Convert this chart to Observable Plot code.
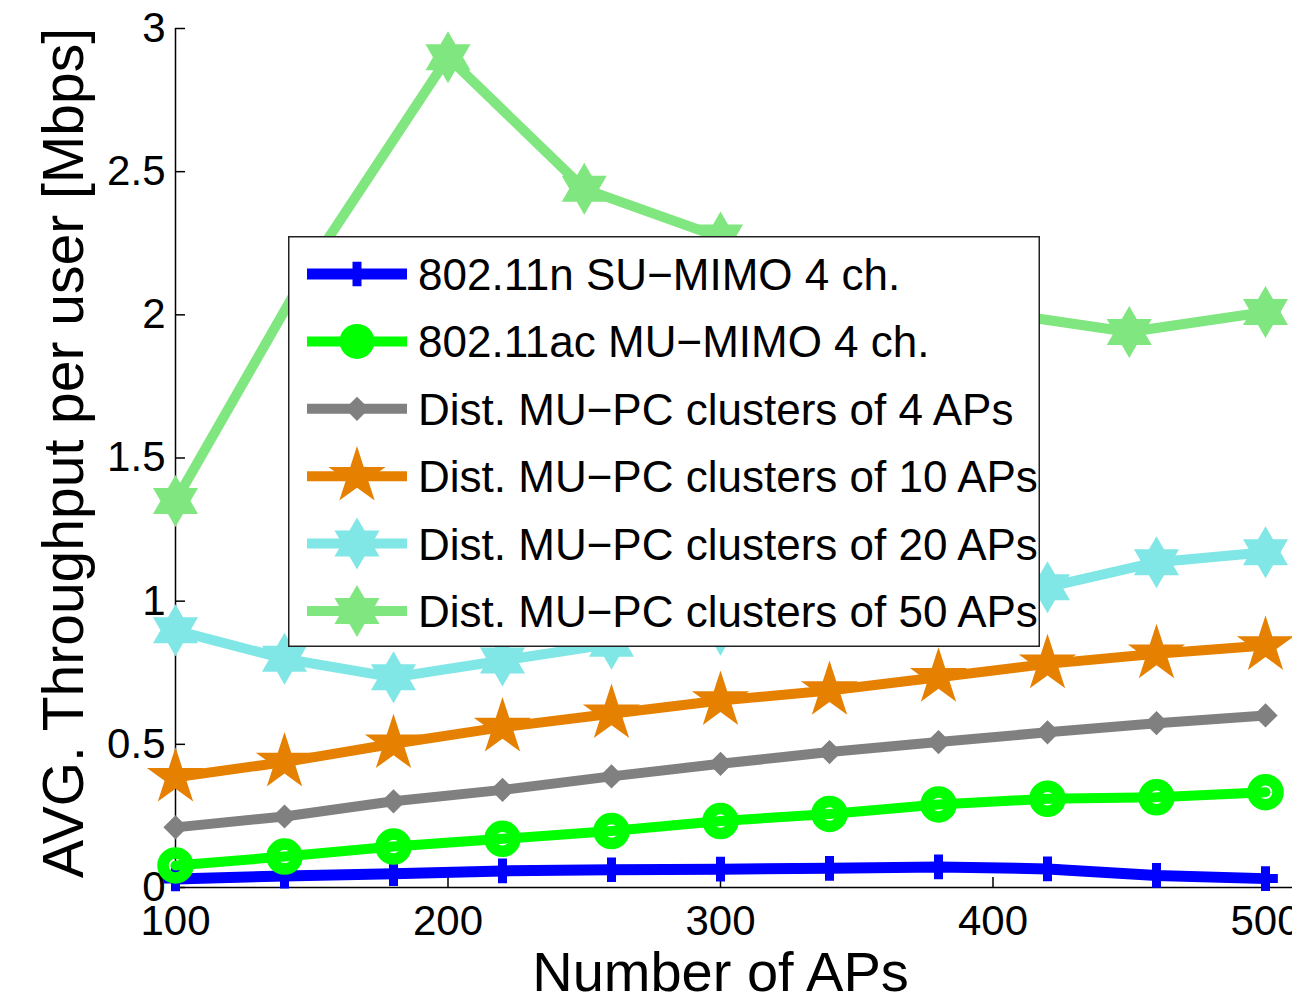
<!DOCTYPE html>
<html><head><meta charset="utf-8">
<script src="https://cdn.jsdelivr.net/npm/d3@7"></script>
<script src="https://cdn.jsdelivr.net/npm/@observablehq/plot@0.6"></script>
<style>
html,body{margin:0;padding:0;background:#fff;overflow:hidden;}
#wrap{position:relative;width:1292px;height:1002px;overflow:hidden;background:#fff;}
#legend{position:absolute;left:288px;top:236px;}
</style></head><body><div id="wrap"></div>
<script>
// ---- data ----
const xAPs = [100, 140, 180, 220, 260, 300, 340, 380, 420, 460, 500];
const xAPs50 = [100, 150, 200, 250, 300, 350, 400, 450, 500];
const suMimo4ch = [0.03, 0.04, 0.048, 0.058, 0.062, 0.064, 0.067, 0.072, 0.065, 0.042, 0.031];
const muMimo4ch = [0.077, 0.108, 0.143, 0.17, 0.197, 0.232, 0.257, 0.29, 0.31, 0.315, 0.333];
const clusters4 = [0.21, 0.248, 0.301, 0.341, 0.388, 0.432, 0.473, 0.508, 0.542, 0.574, 0.601];
const clusters10 = [0.385, 0.438, 0.502, 0.56, 0.607, 0.653, 0.688, 0.734, 0.781, 0.816, 0.845];
const clusters20 = [0.898, 0.799, 0.734, 0.793, 0.851, 0.9, 0.95, 1.0, 1.049, 1.136, 1.171];
const clusters50 = [1.35, 2.18, 2.90, 2.44, 2.27, 2.12, 2.01, 1.94, 2.01];
const seriesNames = [
  "802.11n SU\u2212MIMO 4 ch.",
  "802.11ac MU\u2212MIMO 4 ch.",
  "Dist. MU\u2212PC clusters of 4 APs",
  "Dist. MU\u2212PC clusters of 10 APs",
  "Dist. MU\u2212PC clusters of 20 APs",
  "Dist. MU\u2212PC clusters of 50 APs"
];
const seriesColors = ["#0000ff", "#00ff00", "#808080", "#e68000", "#80e6e6", "#80e680"];
const yTicks = [0, 0.5, 1, 1.5, 2, 2.5, 3];
const xTicks = [100, 200, 300, 400, 500];
const xLabel = "Number of APs";
const yLabel = "AVG. Throughput per user [Mbps]";

const hexagram = {
  draw(context, size) {
    const R = Math.sqrt(size / Math.PI);
    const r = R / Math.sqrt(3);
    for (let i = 0; i < 12; i++) {
      const a = -Math.PI / 2 + i * Math.PI / 6;
      const rr = i % 2 ? r : R;
      const px = rr * Math.cos(a), py = rr * Math.sin(a);
      if (i) context.lineTo(px, py); else context.moveTo(px, py);
    }
    context.closePath();
  }
};

const seriesX = [xAPs, xAPs, xAPs, xAPs, xAPs, xAPs50];
const seriesY = [suMimo4ch, muMimo4ch, clusters4, clusters10, clusters20, clusters50];
const series = seriesNames.map((name, i) => seriesY[i].map((v, j) => ({name, x: seriesX[i][j], y: v})));

const markerOpts = [
  {symbol: "plus", r: 8, fill: "none", stroke: seriesColors[0], strokeWidth: 9},
  {symbol: "circle", r: 12.5, fill: "none", stroke: seriesColors[1], strokeWidth: 11.5},
  {symbol: "diamond2", r: 9, fill: seriesColors[2], stroke: seriesColors[2], strokeWidth: 3},
  {symbol: "star", r: 18, fill: seriesColors[3], stroke: "none"},
  {symbol: hexagram, r: 26, fill: seriesColors[4], stroke: "none"},
  {symbol: hexagram, r: 26, fill: seriesColors[5], stroke: "none"}
];

const seriesMarks = series.flatMap((data, i) => [
  Plot.line(data, {x: "x", y: "y", stroke: seriesColors[i], strokeWidth: i === 0 ? 11 : 10, strokeLinejoin: "round"}),
  Plot.dot(data, {x: "x", y: "y", ...markerOpts[i]})
]);

const chart = Plot.plot({
  width: 1292, height: 1002,
  marginLeft: 175, marginRight: 27, marginTop: 28, marginBottom: 115,
  x: {domain: [100, 500]},
  y: {domain: [0, 3]},
  style: {fontFamily: "'Liberation Sans', Arial, Helvetica, sans-serif", background: "white", color: "black", overflow: "visible"},
  marks: [
    Plot.axisX({ticks: xTicks, tickSize: 0, tickPadding: 18, fontSize: 42, tickFormat: d => String(d), label: null}),
    Plot.axisY({ticks: yTicks, tickSize: 0, tickPadding: 10, fontSize: 42, tickFormat: d => String(d), label: null}),
    Plot.ruleY(yTicks, {x1: 100, x2: 100, insetRight: -10, stroke: "black", strokeWidth: 1.5}),
    Plot.ruleX(xTicks, {y1: 0, y2: 0, insetTop: -10, stroke: "black", strokeWidth: 1.5}),
    Plot.ruleX([100], {y1: 0, y2: 3, stroke: "black", strokeWidth: 1.5}),
    Plot.ruleY([0], {x1: 100, x2: 510, stroke: "black", strokeWidth: 1.5, clip: false}),
    ...seriesMarks,
    Plot.text([xLabel], {frameAnchor: "bottom", lineAnchor: "bottom", textAnchor: "middle", dy: 103, fontSize: 56, fill: "black"}),
    Plot.text([yLabel], {frameAnchor: "left", lineAnchor: "bottom", textAnchor: "middle", rotate: -90, dx: -93, dy: -5, fontSize: 57, fill: "black"})
  ]
});

const wrap = document.getElementById("wrap");
wrap.appendChild(chart);

// ---- legend (overlay inside the axes) ----
const lw = 752, lh = 411;
const leg = d3.create("svg").attr("id", "legend").attr("width", lw).attr("height", lh)
  .style("font-family", "'Liberation Sans', Arial, Helvetica, sans-serif");
leg.append("rect").attr("x", 0.75).attr("y", 0.75).attr("width", lw - 1.5).attr("height", lh - 1.5)
  .attr("fill", "white").attr("stroke", "#222").attr("stroke-width", 1.5);
const legSymbols = [
  {type: d3.symbolPlus, r: 8, fill: "none", stroke: seriesColors[0], sw: 9},
  {type: d3.symbolCircle, r: 17.5, fill: seriesColors[1], stroke: "none", sw: 0},
  {type: d3.symbolDiamond2, r: 9, fill: seriesColors[2], stroke: seriesColors[2], sw: 3},
  {type: d3.symbolStar, r: 18, fill: seriesColors[3], stroke: "none", sw: 0},
  {type: hexagram, r: 26, fill: seriesColors[4], stroke: "none", sw: 0},
  {type: hexagram, r: 26, fill: seriesColors[5], stroke: "none", sw: 0}
];
seriesNames.forEach((name, i) => {
  const cy = 38 + i * 67.4;
  const g = leg.append("g").attr("transform", `translate(0,${cy})`);
  g.append("line").attr("x1", 19).attr("x2", 119).attr("y1", 0).attr("y2", 0)
    .attr("stroke", seriesColors[i]).attr("stroke-width", i === 0 ? 11 : 10);
  const s = legSymbols[i];
  g.append("path").attr("transform", "translate(69,0)")
    .attr("d", d3.symbol(s.type, Math.PI * s.r * s.r)())
    .attr("fill", s.fill).attr("stroke", s.stroke).attr("stroke-width", s.sw);
  g.append("text").attr("x", 130).attr("y", 16).attr("font-size", 44).attr("fill", "black").text(name);
});
wrap.appendChild(leg.node());
</script>
</body></html>
